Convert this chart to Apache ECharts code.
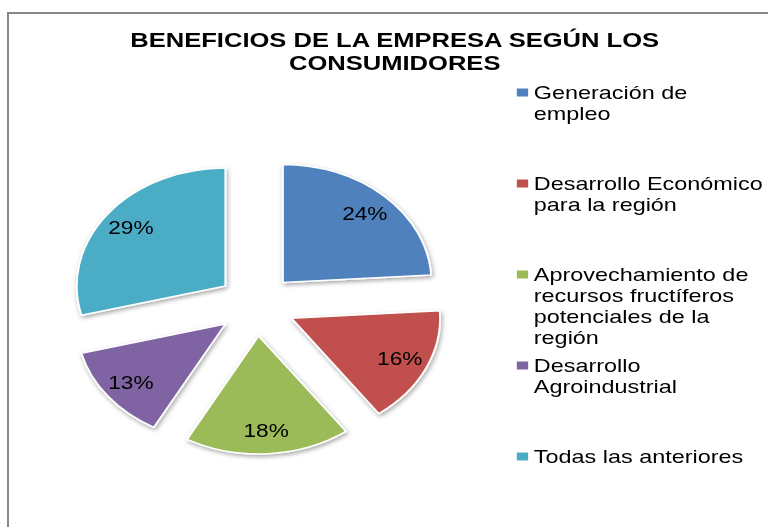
<!DOCTYPE html>
<html>
<head>
<meta charset="utf-8">
<title>Beneficios de la empresa</title>
<script src="https://cdn.jsdelivr.net/npm/echarts@6/dist/echarts.min.js"></script>
<style>
  html, body { margin: 0; padding: 0; background: #fff; overflow: hidden; }
  .frame {
    position: absolute; left: 7px; top: 12px; width: 800px; height: 600px;
    border-left: 2px solid #878787; border-top: 2px solid #878787;
  }
  /* the reference is stretched sideways, so draw narrow and widen */
  .chart {
    position: absolute; left: 0; top: 0; width: 610px; height: 527px;
    transform: scaleX(1.259); transform-origin: 0 0;
  }
</style>
</head>
<body>
<div class="frame"></div>
<div class="chart" id="chart"></div>
<script>
var titleText = "BENEFICIOS DE LA EMPRESA SEGÚN LOS\nCONSUMIDORES";
var names = [
  "Generación de empleo",
  "Desarrollo Económico para la región",
  "Aprovechamiento de recursos fructíferos potenciales de la región",
  "Desarrollo Agroindustrial",
  "Todas las anteriores"
];
var values = [24, 16, 18, 13, 29];
var legendLines = [
  ["Generación de", "empleo"],
  ["Desarrollo Económico", "para la región"],
  ["Aprovechamiento de", "recursos fructíferos", "potenciales de la", "región"],
  ["Desarrollo", "Agroindustrial"],
  ["Todas las anteriores"]
];
var colors = ["#4f81bd", "#c0504d", "#9bbb59", "#8064a2", "#4bacc6"];

var font = "'Liberation Sans', Arial, sans-serif";
var chart = echarts.init(document.getElementById("chart"), null, { renderer: "svg" });

var pieData = names.map(function (n, i) {
  return { name: n, value: values[i], selected: true };
});

// rich styles for the little squares in the legend
var rich = {
  t: { color: "#000", fontSize: 18.6, fontFamily: font, lineHeight: 21 },
  g: { width: 4.5, height: 8 },
  sp: { width: 13.5, height: 8 }
};
colors.forEach(function (c, i) {
  rich["sq" + i] = { width: 9, height: 8, backgroundColor: c };
});

var legends = names.map(function (n, i) {
  return {
    data: [n],
    orient: "vertical",
    left: 404.5,
    top: 82 + i * 91,
    itemWidth: 0,
    itemHeight: 0,
    itemGap: 0,
    textGap: 0,
    padding: 0,
    selectedMode: false,
    formatter: function (name) {
      var idx = names.indexOf(name);
      return legendLines[idx].map(function (l, j) {
        return (j === 0 ? "{sq" + idx + "|}{g|}" : "{sp|}") + "{t|" + l + "}";
      }).join("\n");
    },
    textStyle: { rich: rich, lineHeight: 21 }
  };
});

var option = {
  backgroundColor: "transparent",
  animation: false,
  color: colors,
  title: {
    text: titleText,
    left: 308.5,
    top: 23,
    textAlign: "center",
    textStyle: {
      fontFamily: font,
      fontSize: 20.3,
      fontWeight: "bold",
      color: "#000",
      lineHeight: 23
    }
  },
  legend: legends,
  series: [
    {
      type: "pie",
      center: [203.5, 305],
      radius: [0, 118],
      startAngle: 90,
      clockwise: true,
      selectedMode: "multiple",
      selectedOffset: 31,
      data: pieData,
      label: { show: false },
      labelLine: { show: false },
      emphasis: { disabled: true },
      itemStyle: {
        borderColor: "#fff",
        borderWidth: 1.5,
        shadowBlur: 4,
        shadowColor: "rgba(0,0,0,0.35)",
        shadowOffsetX: 1,
        shadowOffsetY: 2
      }
    },
    {
      // transparent ring, only to put the labels further out
      type: "pie",
      center: [203.5, 305],
      radius: [66, 118],
      startAngle: 90,
      clockwise: true,
      selectedMode: "multiple",
      selectedOffset: 31,
      silent: true,
      avoidLabelOverlap: false,
      data: pieData,
      itemStyle: { color: "transparent", borderWidth: 0 },
      label: {
        show: true,
        position: "inside",
        formatter: "{c}%",
        color: "#000",
        fontSize: 18,
        fontFamily: font
      },
      labelLine: { show: false },
      emphasis: { disabled: true }
    }
  ]
};

chart.setOption(option);
</script>
</body>
</html>
